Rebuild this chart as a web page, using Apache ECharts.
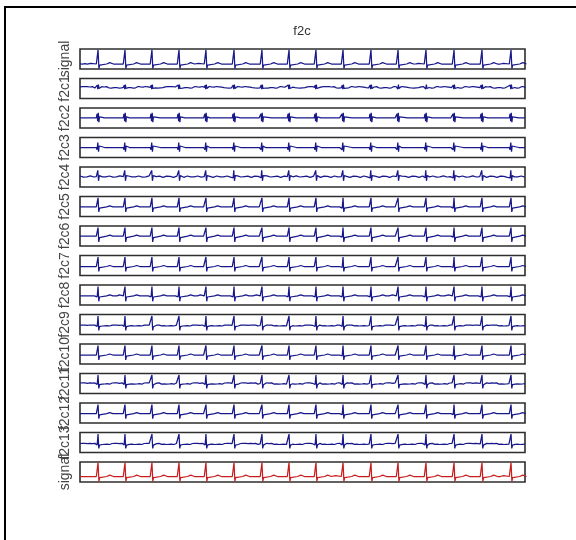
<!DOCTYPE html>
<html><head><meta charset="utf-8">
<script src="https://cdn.jsdelivr.net/npm/echarts@6/dist/echarts.min.js"></script>
<style>html,body{margin:0;padding:0;background:#fff}#c{width:576px;height:540px}</style>
</head><body><div id="c"></div>
<script>
// ---------- data ----------
const chartTitle = 'f2c';
const rowNames = ['signal','f2c1','f2c2','f2c3','f2c4','f2c5','f2c6','f2c7','f2c8','f2c9','f2c10','f2c11','f2c12','f2c13','signal'];
const sampleRange = [0, 3600];
// R-peak sample positions (same in every row)
const beatSamples = [146, 364, 582, 801, 1019, 1246, 1472, 1691, 1909, 2128, 2354, 2573, 2799, 3026, 3252, 3487];
// baseline level of each row
const baselines = [0, 0.12, 0.02, 0, 0.04, -0.04, -0.02, -0.1, -0.08, -0.1, -0.1, 0, -0.06, -0.14, 0];
// axis limits of each row
const yLimits = [[-0.5,1.5],[-1,1],[-1,1],[-1,1],[-1,1],[-1,1],[-1,1],[-1,1],[-1,1],[-1,1],[-1,1],[-1,1],[-1,1],[-1,1],[-0.55,1.45]];
// beat waveform of each row: [sample offset from R peak, value above baseline]
const beatWaves = [
  [[-75,0],[-60,0.07],[-45,0],[-14,0],[-8,-0.08],[0,1.42],[7,-0.45],[13,-0.12],[22,0],[70,0],[95,0.13],[125,0]],
  [[-12,0],[-6,0.22],[-2,-0.18],[3,0.26],[8,-0.12],[12,0]],
  [[-14,0],[-8,0.4],[-3,-0.35],[2,0.5],[7,-0.45],[12,0.1],[16,0]],
  [[-14,0],[-8,-0.22],[-2,0.5],[4,-0.42],[9,0.15],[14,0]],
  [[-14,0],[-7,-0.12],[-2,0.62],[4,-0.42],[10,0.1],[16,0]],
  [[-14,0],[-7,-0.12],[0,0.9],[6,-0.5],[12,-0.12],[20,0],[70,0],[95,0.1],[120,0]],
  [[-14,0],[-7,-0.1],[0,0.86],[6,-0.58],[12,-0.15],[20,0],[70,0],[95,0.1],[120,0]],
  [[-14,0],[-7,-0.1],[0,0.95],[6,-0.5],[12,-0.12],[20,0],[70,0],[95,0.1],[120,0]],
  [[-60,0],[-45,0.1],[-30,0],[-14,0],[-7,-0.1],[0,0.92],[6,-0.55],[12,-0.12],[20,0],[70,0],[95,0.1],[120,0]],
  [[-14,0],[-7,-0.1],[0,0.95],[6,-0.5],[12,-0.12],[20,0]],
  [[-14,0],[-7,-0.1],[0,0.95],[6,-0.5],[12,-0.12],[20,0],[70,0],[95,0.1],[120,0]],
  [[-14,0],[-7,-0.1],[0,0.85],[6,-0.5],[12,-0.12],[20,0]],
  [[-14,0],[-7,-0.1],[0,0.9],[6,-0.5],[12,-0.12],[20,0],[70,0],[95,0.1],[120,0]],
  [[-14,0],[-7,-0.1],[0,0.98],[6,-0.45],[12,-0.12],[20,0]],
  [[-75,0],[-60,0.08],[-45,0],[-14,0],[-8,-0.1],[0,1.4],[7,-0.5],[13,-0.12],[22,0],[70,0],[95,0.13],[125,0]]
];
// hand-read ripple between beats for each row (sample spacing, values)
const rippleSpacing = [20, 5, 50, 50, 14, 50, 50, 50, 50, 10, 50, 10, 50, 10, 50];
const ripples = [
  [0.02,-0.01,0.03,-0.02,0.01,0.0,-0.02,0.02,0.01,-0.01,0.03],
  [0.05,-0.07,0.08,-0.03,0.07,-0.08,0.04,-0.06,0.08,-0.04,0.02,-0.08,0.06,-0.02,0.08,-0.06,0.03,-0.08,0.05,-0.04,0.07,-0.05,0.01],
  [0],[0],
  [0.06,0.02,-0.05,-0.08,-0.02,0.05,0.08,0.03,-0.04,-0.07,0.0,0.06,0.04,-0.03,-0.08,-0.03,0.05],
  [0],[0],[0],[0],
  [0.03,-0.04,0.05,-0.02,0.04,-0.05,0.02,-0.03,0.05,-0.01,0.03,-0.05,0.04],
  [0],
  [0.05,-0.06,0.07,-0.03,0.06,-0.07,0.02,-0.05,0.07,-0.02,0.04,-0.07,0.06],
  [0],
  [0.04,-0.05,0.06,-0.03,0.05,-0.06,0.02,-0.04,0.06,-0.02,0.03,-0.06,0.05],
  [0]
];
const lineColors = ['#18188a','#18188a','#18188a','#18188a','#18188a','#18188a','#18188a','#18188a','#18188a','#18188a','#18188a','#18188a','#18188a','#18188a','#c81e1e'];

// ---------- build ----------
function buildRow(i){
  const wave = beatWaves[i], base = baselines[i];
  const wMin = wave[0][0], wMax = wave[wave.length-1][0];
  const rip = ripples[i], step = rippleSpacing[i];
  const pts = [];
  for (let s = sampleRange[0], k = 0; s <= sampleRange[1]; s += step, k++) {
    const inBeat = beatSamples.some(b => s >= b + wMin && s <= b + wMax);
    if (!inBeat) pts.push([s, base + rip[k % rip.length]]);
  }
  beatSamples.forEach(b => wave.forEach(([o, v]) => pts.push([b + o, base + v])));
  pts.sort((p, q) => p[0] - q[0]);
  return pts;
}

const boxLeft = 80, boxWidth = 445, boxTop0 = 49, rowStep = 29.5, boxHeight = 20;
const grids = [], xAxes = [], yAxes = [], series = [];
rowNames.forEach((name, i) => {
  grids.push({left: boxLeft, width: boxWidth, top: boxTop0 + i*rowStep, height: boxHeight,
    show: true, borderColor: '#2e2e2e', borderWidth: 1.6, backgroundColor: '#fff'});
  xAxes.push({type: 'value', gridIndex: i, min: sampleRange[0], max: sampleRange[1], show: false});
  yAxes.push({type: 'value', gridIndex: i, min: yLimits[i][0], max: yLimits[i][1],
    axisLine: {show: false}, axisTick: {show: false}, axisLabel: {show: false}, splitLine: {show: false},
    name: name, nameLocation: 'middle', nameRotate: 90, nameGap: 8,
    nameTextStyle: {color: '#444', fontSize: 14, fontFamily: 'Liberation Sans'}});
  series.push({type: 'line', xAxisIndex: i, yAxisIndex: i, data: buildRow(i), showSymbol: false,
    lineStyle: {color: lineColors[i], width: 1.25}, silent: true, clip: true});
});

const chart = echarts.init(document.getElementById('c'), null, {renderer: 'canvas'});
chart.setOption({
  animation: false,
  backgroundColor: '#fff',
  grid: grids, xAxis: xAxes, yAxis: yAxes, series: series,
  graphic: [
    {type: 'rect', shape: {x: 5, y: 7, width: 800, height: 800}, style: {fill: null, stroke: '#000', lineWidth: 2}, silent: true},
    {type: 'text', x: 302, y: 31, style: {text: chartTitle, textAlign: 'center', textVerticalAlign: 'middle',
      fill: '#333', fontSize: 13, fontFamily: 'Liberation Sans'}}
  ]
});
</script></body></html>
